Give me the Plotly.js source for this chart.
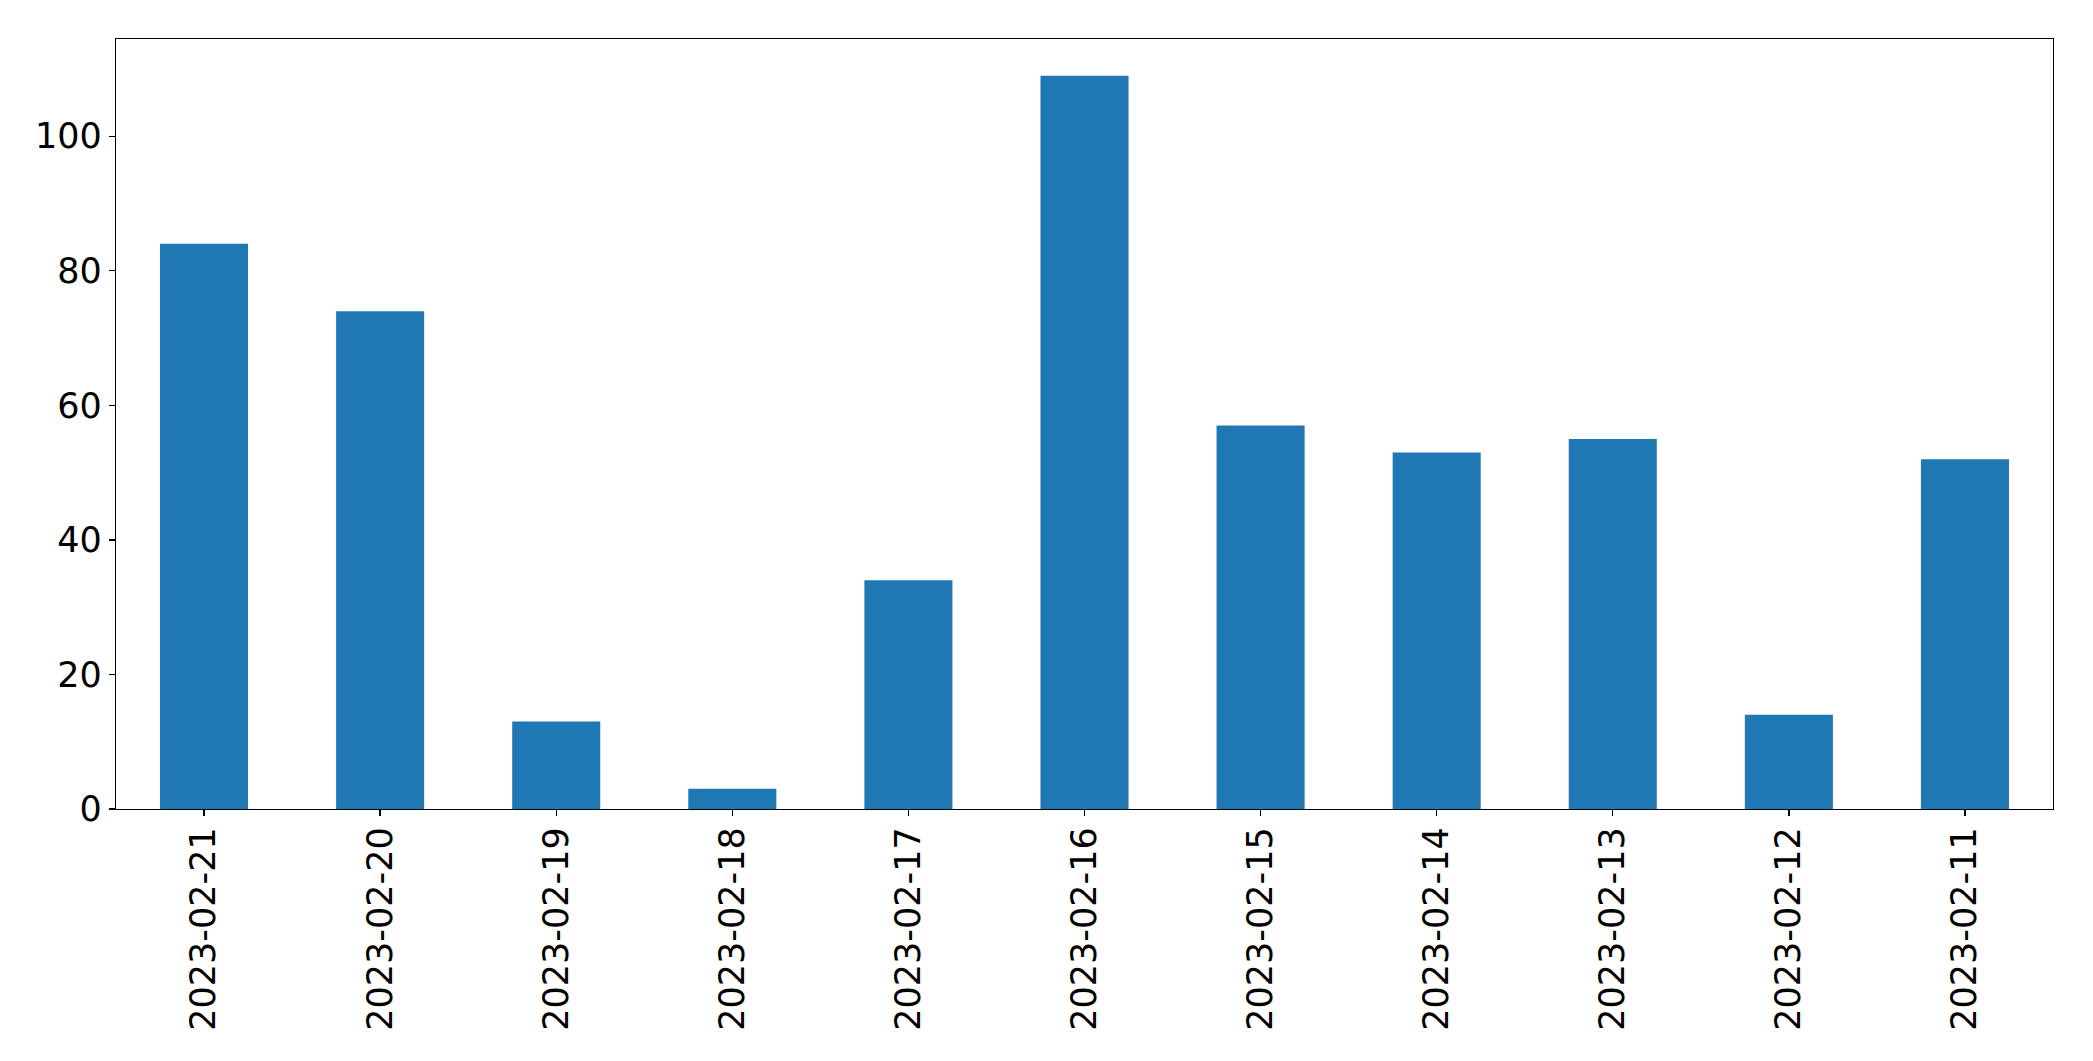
<!DOCTYPE html>
<html>
<head>
<meta charset="utf-8">
<script src="https://cdn.plot.ly/plotly-3.0.1.min.js"></script>
<style>
  html, body { margin: 0; padding: 0; background: #fff; }
  #chart { width: 2093px; height: 1061px; }
</style>
</head>
<body>
<div id="chart"></div>
<script>
const dates = ["2023-02-21", "2023-02-20", "2023-02-19", "2023-02-18", "2023-02-17", "2023-02-16", "2023-02-15", "2023-02-14", "2023-02-13", "2023-02-12", "2023-02-11"];
const counts = [84, 74, 13, 3, 34, 109, 57, 53, 55, 14, 52];
const yTicks = [0, 20, 40, 60, 80, 100];

const trace = {
  type: "bar",
  x: dates,
  y: counts,
  marker: { color: "#1f77b4", line: { width: 0 } },
  hoverinfo: "x+y"
};

const font = { family: "DejaVu Sans, sans-serif", size: 35, color: "#000" };

const layout = {
  width: 2093,
  height: 1061,
  margin: { l: 116, r: 40, t: 39, b: 252, pad: 0 },
  paper_bgcolor: "#fff",
  plot_bgcolor: "#fff",
  bargap: 0.5,
  showlegend: false,
  font: font,
  xaxis: {
    type: "category",
    range: [-0.5, dates.length - 0.5],
    tickangle: -90,
    ticks: "outside",
    ticklen: 6,
    tickwidth: 1.3,
    tickcolor: "#000",
    ticklabelstandoff: -3,
    showline: true,
    linecolor: "#000",
    linewidth: 1.3,
    mirror: true,
    showgrid: false,
    zeroline: false,
    tickfont: font,
    automargin: false
  },
  yaxis: {
    range: [0, 109 * 1.05],
    tickmode: "array",
    tickvals: yTicks,
    ticktext: yTicks.map(String),
    ticks: "outside",
    ticklen: 6,
    tickwidth: 1.3,
    tickcolor: "#000",
    showline: true,
    linecolor: "#000",
    linewidth: 1.3,
    mirror: true,
    showgrid: false,
    zeroline: false,
    tickfont: font,
    automargin: false
  }
};

Plotly.newPlot("chart", [trace], layout, { displayModeBar: false, staticPlot: true });
</script>
</body>
</html>
